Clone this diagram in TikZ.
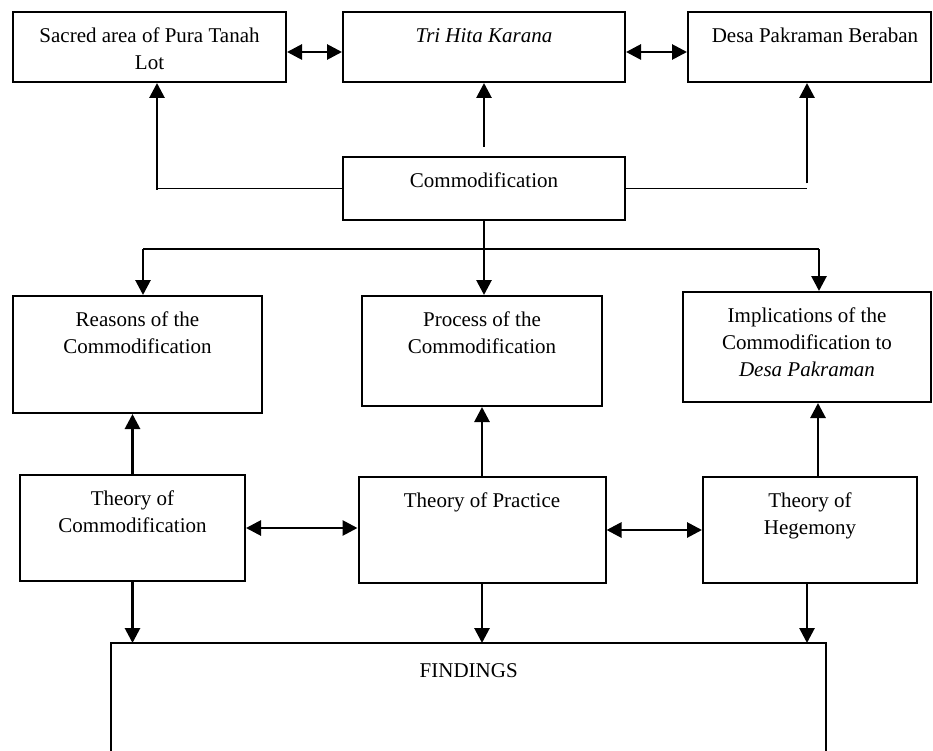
\documentclass[tikz,border=0pt]{standalone}
\usepackage{fontspec}
\setmainfont{Liberation Serif}
\usetikzlibrary{arrows.meta}
\tikzset{
  box/.style={draw, line width=2pt, inner sep=0pt, rectangle},
  lbl/.style={anchor=north, inner sep=0pt, align=center, font=\fontsize{21}{27}\selectfont},
  arr/.style={line width=2.8pt, -{Triangle[length=15pt,width=15pt]}},
  darr/.style={line width=2.8pt, {Triangle[length=15pt,width=15pt]}-{Triangle[length=15pt,width=15pt]}},
  ln/.style={line width=1.8pt},
  vln/.style={line width=2.8pt}
}
\begin{document}
\begin{tikzpicture}[x=1pt,y=-1pt]
\useasboundingbox (0,0) rectangle (933,751);
% boxes
\node[box, minimum width=273pt, minimum height=70pt] (sacred) at (149.5,47) {};
\node[box, minimum width=282pt, minimum height=70pt] (thk) at (484,47) {};
\node[box, minimum width=243pt, minimum height=70pt] (desa) at (809.5,47) {};
\node[box, minimum width=282pt, minimum height=63pt] (comm) at (484,188.5) {};
\node[box, minimum width=249pt, minimum height=117pt] (reasons) at (137.5,354.5) {};
\node[box, minimum width=240pt, minimum height=110pt] (process) at (482,351) {};
\node[box, minimum width=248pt, minimum height=110pt] (impl) at (807,347) {};
\node[box, minimum width=225pt, minimum height=106pt] (toc) at (132.5,528) {};
\node[box, minimum width=247pt, minimum height=106pt] (top) at (482,530) {};
\node[box, minimum width=214pt, minimum height=106pt] (toh) at (810,530) {};
\node[inner sep=0pt, minimum width=715pt, minimum height=140pt, anchor=north west] (find) at (111,643) {};
\draw[line width=2pt] (find.south west) -- (find.north west) -- (find.north east) -- (find.south east);
% labels
\node[lbl] (sacred-t) at ([yshift=-17pt]sacred.north) {Sacred area of Pura Tanah\\Lot};
\node[lbl] (thk-t) at ([yshift=-17pt]thk.north) {\itshape Tri Hita Karana};
\node[lbl] (desa-t) at ([yshift=-17pt,xshift=5.5pt]desa.north) {Desa Pakraman Beraban};
\node[lbl] (comm-t) at ([yshift=-17pt]comm.north) {Commodification};
\node[lbl] (reasons-t) at ([yshift=-17pt]reasons.north) {Reasons of the\\Commodification};
\node[lbl] (process-t) at ([yshift=-17pt]process.north) {Process of the\\Commodification};
\node[lbl] (impl-t) at ([yshift=-17pt]impl.north) {Implications of the\\Commodification to\\\textit{Desa Pakraman}};
\node[lbl] (toc-t) at ([yshift=-17pt]toc.north) {Theory of\\Commodification};
\node[lbl] (top-t) at ([yshift=-17pt]top.north) {Theory of Practice};
\node[lbl] (toh-t) at ([yshift=-17pt]toh.north) {Theory of\\Hegemony};
\node[lbl] (find-t) at ([yshift=-20pt]find.north) {FINDINGS};
% top row double arrows
\draw[darr] ([yshift=-5pt]sacred.east) -- ([yshift=-5pt]thk.west);
\draw[darr] ([yshift=-5pt]thk.east) -- ([yshift=-5pt]desa.west);
% commodification up
\draw[arr] ([yshift=9pt]comm.north) -- (thk.south);
\draw[ln] (comm.west) -- (157,188.5) coordinate (cl);
\draw[arr] ([yshift=-1.5pt]cl) -- (cl |- sacred.south);
\draw[ln] (comm.east) -- (807,188.5) coordinate (cr);
\draw[arr] ([yshift=5pt]cr) -- (cr |- desa.south);
% commodification down
\draw[vln] (comm.south) -- (484,249) coordinate (hub);
\draw[ln] (143,249) coordinate (hl) -- (819,249) coordinate (hr);
\draw[arr] (hl) -- (hl |- reasons.north);
\draw[arr] (hub) -- (hub |- process.north);
\draw[arr] (hr) -- (hr |- impl.north);
% theories up
\draw[arr] (toc.north) -- (toc.north |- reasons.south);
\draw[arr] (top.north) -- (top.north |- process.south);
\draw[arr] ([xshift=8pt]toh.north) coordinate (hn) -- (hn |- impl.south);
% theories horizontal
\draw[darr] (toc.east) -- (toc.east -| top.west);
\draw[darr] (top.east) -- (top.east -| toh.west);
% theories down
\draw[arr] (toc.south) -- (toc.south |- find.north);
\draw[arr] (top.south) -- (top.south |- find.north);
\draw[arr] ([xshift=-3pt]toh.south) coordinate (hs) -- (hs |- find.north);
\end{tikzpicture}
\end{document}
